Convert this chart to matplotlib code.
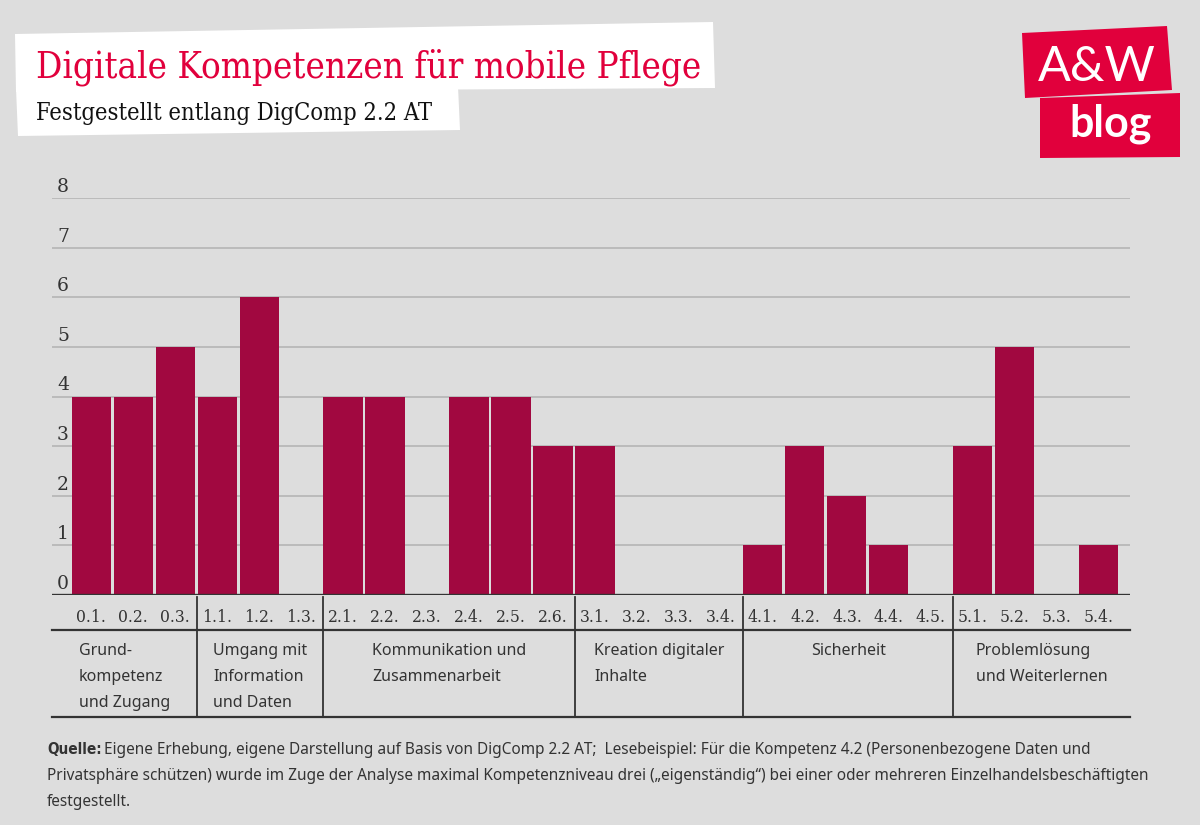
import matplotlib
matplotlib.use("Agg")
import matplotlib.pyplot as plt
import matplotlib.transforms as mtransforms
from matplotlib.patches import Polygon

# competence codes (x axis) and highest level found
codes = ["0.1.", "0.2.", "0.3.", "1.1.", "1.2.", "1.3.",
         "2.1.", "2.2.", "2.3.", "2.4.", "2.5.", "2.6.",
         "3.1.", "3.2.", "3.3.", "3.4.",
         "4.1.", "4.2.", "4.3.", "4.4.", "4.5.",
         "5.1.", "5.2.", "5.3.", "5.4."]
levels = [4, 4, 5, 4, 6, 0,
          4, 4, 0, 4, 4, 3,
          3, 0, 0, 0,
          1, 3, 2, 1, 0,
          3, 5, 0, 1]

groups = ["Grund-\nkompetenz\nund Zugang",
          "Umgang mit\nInformation\nund Daten",
          "Kommunikation und\nZusammenarbeit",
          "Kreation digitaler\nInhalte",
          "Sicherheit",
          "Problemlösung\nund Weiterlernen"]
group_first = [0, 3, 6, 12, 16, 21]   # index of first code in each group

y_ticks = [0, 1, 2, 3, 4, 5, 6, 7, 8]

title = "Digitale Kompetenzen für mobile Pflege"
subtitle = "Festgestellt entlang DigComp 2.2 AT"
source_bold = "Quelle:"
source_rest = ("Eigene Erhebung, eigene Darstellung auf Basis von DigComp 2.2 AT;  "
               "Lesebeispiel: Für die Kompetenz 4.2 (Personenbezogene Daten und")
source_lines = ["Privatsphäre schützen) wurde im Zuge der Analyse maximal Kompetenzniveau drei "
                "(\u201eeigenständig\u201c) bei einer oder mehreren Einzelhandelsbeschäftigten",
                "festgestellt."]

BG = "#dddddd"
BAR = "#a10840"
RED = "#e1003c"
DARK = "#333333"
W, H = 1200, 825

fig = plt.figure(figsize=(12, 8.25), dpi=100, facecolor=BG)

# overlay in pixel coordinates for the decorations
deco = fig.add_axes([0, 0, 1, 1])
deco.set_xlim(0, W)
deco.set_ylim(H, 0)
deco.axis("off")
deco.patch.set_alpha(0)

# main chart
left, right, top, base = 52, 1130, 198, 595
ax = fig.add_axes([left / W, 1 - base / H, (right - left) / W, (base - top) / H])
ax.patch.set_alpha(0)
x = list(range(len(codes)))
ax.bar(x, levels, width=0.93, color=BAR, zorder=3)
ax.set_xlim(-0.93, len(codes) - 1 + 0.74)
ax.set_ylim(0, 8)
for s in ax.spines.values():
    s.set_visible(False)
ax.set_yticks(y_ticks)
ax.grid(axis="y", color="#b5b5b5", lw=1.2, zorder=1)
ax.axhline(0, color=DARK, lw=2.4, zorder=4)
ax.tick_params(axis="y", length=0, labelsize=13.5, labelcolor=DARK, pad=0)
ax.set_yticklabels([str(v) for v in y_ticks], fontfamily="DejaVu Serif")
shift = mtransforms.ScaledTranslation(5 / 100, 13 / 100, fig.dpi_scale_trans)
for lab in ax.get_yticklabels():
    lab.set_horizontalalignment("left")
    lab.set_transform(lab.get_transform() + shift)

ax.set_xticks(x)
ax.set_xticklabels(codes, fontfamily="DejaVu Serif", fontstretch="condensed")
ax.tick_params(axis="x", length=0, labelsize=12.5, labelcolor=DARK, pad=10)

# group table under the axis
tr = mtransforms.blended_transform_factory(ax.transData, deco.transData)
x0, x1 = ax.get_xlim()
ax.plot([x0, x1], [630, 630], color=DARK, lw=1.6, transform=tr, clip_on=False)
ax.plot([x0, x1], [717, 717], color=DARK, lw=1.6, transform=tr, clip_on=False)
edges = [g - 0.47 for g in group_first] + [x1]
edges[0] = x0
for e in edges[1:-1]:
    ax.plot([e, e], [597, 717], color=DARK, lw=1.3, transform=tr, clip_on=False)
for i, g in enumerate(groups):
    cx = (edges[i] + edges[i + 1]) / 2
    ax.text(cx, 643, g, transform=tr, ha="center", va="top", multialignment="left",
            fontsize=11.5, color=DARK, linespacing=1.85, clip_on=False,
            fontfamily="Noto Sans", fontstretch="condensed")

# title boxes
deco.add_patch(Polygon([(15, 34), (713, 22), (715, 88), (16, 92)], closed=True,
                       facecolor="white", edgecolor="none"))
deco.add_patch(Polygon([(16, 88), (458, 86), (460, 130), (18, 136)], closed=True,
                       facecolor="white", edgecolor="none"))
deco.text(36, 77, title, color=RED, fontsize=26.3, fontfamily="DejaVu Serif",
          fontstretch="condensed", va="baseline")
deco.text(36, 120, subtitle, color="#111111", fontsize=17, fontfamily="DejaVu Serif",
          fontstretch="condensed", va="baseline")

# logo
deco.add_patch(Polygon([(1022, 33), (1167, 26), (1172, 90), (1025, 98)], closed=True,
                       facecolor=RED, edgecolor="none"))
deco.add_patch(Polygon([(1040, 98), (1180, 93), (1180, 157), (1040, 158)], closed=True,
                       facecolor=RED, edgecolor="none"))
deco.text(1097, 81, "A&W", color="white", fontsize=35, fontfamily="Lato",
          fontweight="normal", ha="center", va="baseline")
deco.text(1111, 136, "blog", color="white", fontsize=31, fontfamily="Lato",
          fontweight="bold", ha="center", va="baseline")

# source note
deco.text(47, 754, source_bold, color=DARK, fontsize=11, fontweight="bold",
          fontfamily="DejaVu Sans", fontstretch="condensed", va="baseline")
deco.text(104, 754, source_rest, color=DARK, fontsize=11.05,
          fontfamily="Noto Sans", va="baseline")
for k, line in enumerate(source_lines):
    deco.text(47, 780 + 26 * k, line, color=DARK, fontsize=11.05,
              fontfamily="Noto Sans", va="baseline")

fig.savefig("out.png", dpi=100, facecolor=BG)
